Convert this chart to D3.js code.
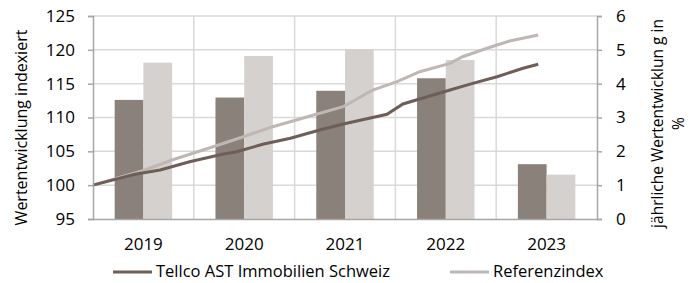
<!DOCTYPE html>
<html>
<head>
<meta charset="utf-8">
<script src="https://cdn.jsdelivr.net/npm/d3@7"></script>
<style>
  body { margin: 0; background: #fff; }
  svg text { font-family: "Open Sans", "Noto Sans", sans-serif; fill: #000; }
</style>
</head>
<body>
<svg id="chart" width="696" height="283"></svg>
<script>
// Jahre (Kategorien)
var years = ["2019", "2020", "2021", "2022", "2023"];
// jährliche Wertentwicklung in % (Balken, rechte Achse)
var tellcoYear = [3.52, 3.59, 3.79, 4.16, 1.62];
var refYear = [4.62, 4.82, 5.02, 4.70, 1.31];

// indexierte Entwicklung (Linien, linke Achse), x = Monate seit Start
var tellcoMonths = [0, 5, 8, 11.5, 15.4, 17.1, 20.2, 23.5, 27, 29.8, 35, 36.9, 39.8, 42.5, 45.2, 48.1, 51.2, 53];
var tellcoIndex = [100, 101.6, 102.24, 103.47, 104.56, 104.95, 106.04, 106.93, 108.15, 109.04, 110.47, 112.0, 113.07, 114.06, 115.05, 116.03, 117.27, 117.86];
var refMonths = [0, 6.2, 9.4, 14.3, 17.9, 21.4, 27, 29.8, 33.3, 36.2, 38.9, 42.5, 44, 46.9, 49.6, 53];
var refIndex = [100, 102.24, 103.72, 105.68, 107.16, 108.64, 110.62, 111.6, 114.06, 115.29, 116.77, 118.0, 118.98, 120.23, 121.3, 122.2];

var leftTicks = [95, 100, 105, 110, 115, 120, 125];
var rightTicks = [0, 1, 2, 3, 4, 5, 6];

var seriesNames = ["Tellco AST Immobilien Schweiz", "Referenzindex"];
var barColors = ["#8b817b", "#d5d1ce"];
var lineColors = ["#6e5e57", "#bfb7b4"];

var pL = 93, pR = 597, pT = 16, pB = 219;
var svg = d3.select("#chart");

var x0 = d3.scaleBand().domain(years).range([pL, pR])
    .paddingInner(0.43).paddingOuter(0.215);
var x1 = d3.scaleBand().domain([0, 1]).range([0, x0.bandwidth()]);
var xm = d3.scaleLinear().domain([0, 60]).range([pL, pR]);
var yL = d3.scaleLinear().domain([95, 125]).range([pB, pT]);
var yR = d3.scaleLinear().domain([0, 6]).range([pB, pT]);

// Gitternetz
svg.append("g").selectAll("line")
    .data(leftTicks.slice(1))
    .enter().append("line")
    .attr("x1", pL).attr("x2", pR)
    .attr("y1", function(d){ return yL(d); })
    .attr("y2", function(d){ return yL(d); })
    .attr("stroke", "#d9d9d9").attr("stroke-width", 1.5);

var step = x0.step();
svg.append("g").selectAll("line")
    .data(d3.range(1, years.length))
    .enter().append("line")
    .attr("x1", function(i){ return pL + i * step; })
    .attr("x2", function(i){ return pL + i * step; })
    .attr("y1", pT).attr("y2", pB)
    .attr("stroke", "#d9d9d9").attr("stroke-width", 1.5);

// Balken
var groups = svg.append("g").selectAll("g")
    .data(years)
    .enter().append("g")
    .attr("transform", function(d){ return "translate(" + x0(d) + ",0)"; });

groups.selectAll("rect")
    .data(function(d, i){ return [tellcoYear[i], refYear[i]]; })
    .enter().append("rect")
    .attr("x", function(d, j){ return x1(j); })
    .attr("y", function(d){ return yR(d); })
    .attr("width", x1.bandwidth())
    .attr("height", function(d){ return pB - yR(d); })
    .attr("fill", function(d, j){ return barColors[j]; });

// Linien
var lineGen = d3.line()
    .x(function(d){ return xm(d[0]); })
    .y(function(d){ return yL(d[1]); });

svg.append("path")
    .datum(d3.zip(refMonths, refIndex))
    .attr("d", lineGen)
    .attr("fill", "none").attr("stroke", lineColors[1]).attr("stroke-width", 3);
svg.append("path")
    .datum(d3.zip(tellcoMonths, tellcoIndex))
    .attr("d", lineGen)
    .attr("fill", "none").attr("stroke", lineColors[0]).attr("stroke-width", 3);

// Achsen
var axL = svg.append("g")
    .attr("transform", "translate(" + pL + ",0)")
    .call(d3.axisLeft(yL).tickValues(leftTicks).tickSize(5).tickPadding(13));
var axR = svg.append("g")
    .attr("transform", "translate(" + pR + ",0)")
    .call(d3.axisRight(yR).tickValues(rightTicks).tickFormat(d3.format("d")).tickSize(5).tickPadding(14));
var axB = svg.append("g")
    .attr("transform", "translate(0," + pB + ")")
    .call(d3.axisBottom(x0).tickSize(0).tickPadding(19));

[axL, axR, axB].forEach(function(ax) {
    ax.select(".domain").attr("stroke", "#a6a6a6").attr("stroke-width", 1.5);
    ax.selectAll(".tick line").attr("stroke", "#a6a6a6").attr("stroke-width", 1.5);
    ax.selectAll("text").style("font-size", "17px").style("font-family", "'Open Sans', sans-serif");
});

// Achsentitel
svg.append("text")
    .attr("transform", "translate(21," + ((pT + pB) / 2 + 10) + ") rotate(-90)")
    .attr("text-anchor", "middle").attr("dy", "0.35em")
    .style("font-size", "16px")
    .text("Wertentwicklung indexiert");

var rt = svg.append("text")
    .attr("transform", "translate(658," + ((pT + pB) / 2 + 6) + ") rotate(-90)")
    .attr("text-anchor", "middle")
    .style("font-size", "15.5px");
rt.append("tspan").attr("x", 0).attr("dy", "0.35em").text("jährliche Wertentwicklun g in");
rt.append("tspan").attr("x", 0).attr("dy", "1.3em").text("%");

// Legende
var legendX = [113, 450];
var leg = svg.append("g").selectAll("g")
    .data(seriesNames)
    .enter().append("g")
    .attr("transform", function(d, i){ return "translate(" + legendX[i] + ",271)"; });
leg.append("line")
    .attr("x1", 0).attr("x2", 39).attr("y1", 1).attr("y2", 1)
    .attr("stroke", function(d, i){ return lineColors[i]; })
    .attr("stroke-width", 3);
leg.append("text")
    .attr("x", 43).attr("dy", "0.35em")
    .style("font-size", "16.5px")
    .text(function(d){ return d; });
</script>
</body>
</html>
